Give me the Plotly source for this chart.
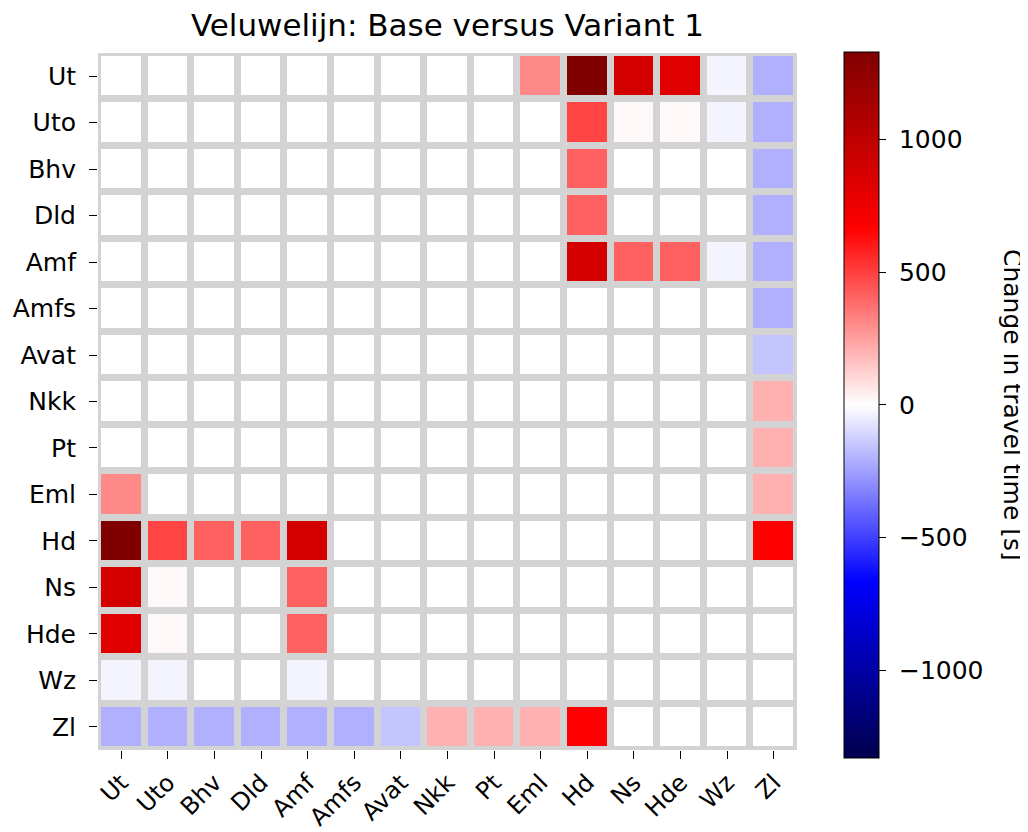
import plotly.graph_objects as go

# stations (same order on both axes)
stations = ["Ut", "Uto", "Bhv", "Dld", "Amf", "Amfs", "Avat", "Nkk",
            "Pt", "Eml", "Hd", "Ns", "Hde", "Wz", "Zl"]

# change in travel time [s], one list per origin row
ut   = [0, 0, 0, 0, 0, 0, 0, 0, 0, 310, 1330, 890, 827, -29, -206]
uto  = [0, 0, 0, 0, 0, 0, 0, 0, 0, 0, 488, 18, 18, -29, -206]
bhv  = [0, 0, 0, 0, 0, 0, 0, 0, 0, 0, 415, 0, 0, 0, -206]
dld  = [0, 0, 0, 0, 0, 0, 0, 0, 0, 0, 415, 0, 0, 0, -206]
amf  = [0, 0, 0, 0, 0, 0, 0, 0, 0, 0, 890, 415, 415, -29, -206]
amfs = [0, 0, 0, 0, 0, 0, 0, 0, 0, 0, 0, 0, 0, 0, -206]
avat = [0, 0, 0, 0, 0, 0, 0, 0, 0, 0, 0, 0, 0, 0, -153]
nkk  = [0, 0, 0, 0, 0, 0, 0, 0, 0, 0, 0, 0, 0, 0, 206]
pt   = [0, 0, 0, 0, 0, 0, 0, 0, 0, 0, 0, 0, 0, 0, 206]
eml  = [310, 0, 0, 0, 0, 0, 0, 0, 0, 0, 0, 0, 0, 0, 206]
hd   = [1330, 488, 415, 415, 890, 0, 0, 0, 0, 0, 0, 0, 0, 0, 665]
ns   = [890, 18, 0, 0, 415, 0, 0, 0, 0, 0, 0, 0, 0, 0, 0]
hde  = [827, 18, 0, 0, 415, 0, 0, 0, 0, 0, 0, 0, 0, 0, 0]
wz   = [-29, -29, 0, 0, -29, 0, 0, 0, 0, 0, 0, 0, 0, 0, 0]
zl   = [-206, -206, -206, -206, -206, -206, -153, 206, 206, 206, 665, 0, 0, 0, 0]

z = [ut, uto, bhv, dld, amf, amfs, avat, nkk, pt, eml, hd, ns, hde, wz, zl]

cbar_ticks = [-1000, -500, 0, 500, 1000]
cbar_text = ["\u00a0\u22121000", "\u00a0\u2212500", "\u00a00", "\u00a0500", "\u00a01000"]

# matplotlib "seismic"
seismic = [[0.0, "rgb(0,0,77)"], [0.25, "rgb(0,0,255)"], [0.5, "rgb(255,255,255)"],
           [0.75, "rgb(255,0,0)"], [1.0, "rgb(128,0,0)"]]

font = "DejaVu Sans"

# the page body adds an 8px margin, so the figure is 8px smaller each way
fig = go.Figure(go.Heatmap(
    z=z, x=stations, y=stations,
    colorscale=seismic, zmin=-1330, zmax=1330,
    xgap=7, ygap=7,
    colorbar=dict(
        thickness=35, lenmode="pixels", len=706,
        x=1.067, xanchor="left", xpad=0,
        y=0.495, yanchor="middle", ypad=0,
        outlinewidth=1, outlinecolor="black",
        tickvals=cbar_ticks, ticktext=cbar_text,
        ticks="outside", ticklen=7, tickcolor="black",
        tickfont=dict(family=font, size=25, color="black"),
    ),
))

fig.update_layout(
    width=1020, height=824,
    margin=dict(l=90, r=231, t=45, b=82, autoexpand=False),
    paper_bgcolor="white",
    plot_bgcolor="#d3d3d3",
    font=dict(family=font, color="black"),
    title=dict(text="Veluwelijn: Base versus Variant 1",
               x=0.5, xref="paper", xanchor="center",
               y=1 - 17 / 824, yref="container", yanchor="middle",
               font=dict(family=font, size=31, color="black")),
    annotations=[dict(text="Change in travel time [s]", textangle=90,
                      x=1.3076, y=0.495, xref="paper", yref="paper",
                      xanchor="center", yanchor="middle", showarrow=False,
                      font=dict(family=font, size=25, color="black"))],
)

fig.update_xaxes(showgrid=False, zeroline=False, showline=False,
                 automargin=False,
                 ticks="outside", ticklen=8, tickcolor="black",
                 tickangle=-45, tickfont=dict(size=24),
                 ticklabelstandoff=0)
fig.update_yaxes(showgrid=False, zeroline=False, showline=False,
                 automargin=False, autorange="reversed",
                 ticks="outside", ticklen=8, tickcolor="black",
                 tickfont=dict(size=25), ticklabelstandoff=8)

fig.write_html("out.html")
